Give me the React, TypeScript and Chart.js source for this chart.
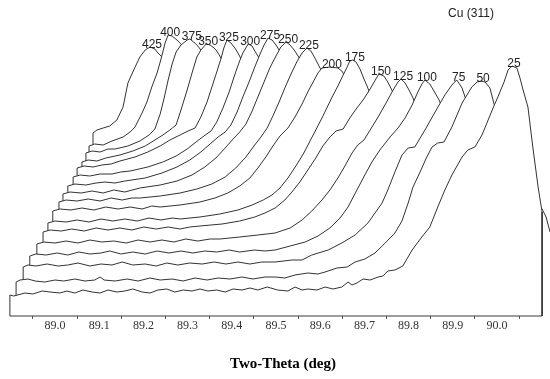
import React, { useEffect, useRef } from 'react';
import { Chart, registerables } from 'chart.js';

Chart.register(...registerables);

// Sample labels of the stacked Cu (311) scans, front (25) to back (425)
const SAMPLES = ['25', '50', '75', '100', '125', '150', '175', '200', '225', '250', '275', '300', '325', '350', '375', '400', '425'];

// Each trace: [two-theta as plotted (deg), stacked intensity (a.u.)]
const s25: number[][] = [
  [88.898, 0], [88.898, 21], [88.907, 20], [88.932, 23], [88.950, 22], [88.971, 25], [88.989, 24], [89.011, 23], [89.027, 25], [89.045, 23], [89.063, 26], [89.084, 24], [89.102, 23], [89.120, 26], [89.140, 24], [89.158, 25], [89.176, 27], [89.197, 24], [89.215, 23], [89.233, 26], [89.253, 27], [89.271, 24], [89.290, 26], [89.310, 25], [89.328, 27], [89.346, 25], [89.366, 26], [89.385, 24], [89.403, 27], [89.423, 26], [89.441, 28], [89.459, 26], [89.480, 29], [89.504, 26], [89.527, 25], [89.543, 29], [89.559, 26], [89.572, 27], [89.593, 26], [89.611, 29], [89.629, 27], [89.649, 29], [89.663, 34], [89.672, 31], [89.683, 33], [89.697, 37], [89.713, 36], [89.731, 39], [89.742, 40], [89.753, 45], [89.769, 46], [89.787, 50], [89.808, 66], [89.830, 79], [89.848, 89], [89.866, 109], [89.882, 126], [89.898, 141], [89.921, 159], [89.934, 166], [89.950, 169], [89.966, 181], [89.980, 196], [89.991, 208], [90.002, 219], [90.016, 234], [90.025, 246], [90.034, 250], [90.045, 248], [90.052, 238], [90.059, 226], [90.070, 209], [90.081, 169], [90.093, 129], [90.102, 104], [90.102, 0],
];
const s50: number[][] = [
  [88.912, 0], [88.912, 34], [88.921, 36], [88.939, 37], [88.955, 35], [88.977, 34], [89.000, 36], [89.020, 35], [89.045, 37], [89.068, 35], [89.090, 36], [89.102, 39], [89.111, 36], [89.136, 35], [89.163, 37], [89.188, 35], [89.215, 38], [89.238, 36], [89.265, 37], [89.290, 35], [89.317, 38], [89.344, 36], [89.369, 38], [89.396, 37], [89.423, 39], [89.448, 37], [89.475, 39], [89.498, 39], [89.520, 38], [89.543, 41], [89.572, 43], [89.595, 42], [89.611, 44], [89.638, 48], [89.661, 49], [89.679, 54], [89.701, 57], [89.724, 63], [89.747, 73], [89.769, 83], [89.785, 95], [89.799, 113], [89.810, 129], [89.826, 144], [89.839, 157], [89.853, 169], [89.866, 173], [89.880, 174], [89.898, 189], [89.921, 213], [89.943, 229], [89.955, 234], [89.964, 235], [89.973, 234], [89.984, 228], [89.991, 216], [90.000, 201], [90.018, 176], [90.041, 151], [90.063, 131], [90.086, 116], [90.102, 107], [90.111, 99], [90.120, 84], [90.121, 0],
];
const s75: number[][] = [
  [88.928, 0], [88.928, 49], [88.939, 51], [88.957, 50], [88.982, 52], [89.007, 50], [89.029, 51], [89.052, 53], [89.079, 50], [89.104, 52], [89.129, 51], [89.152, 54], [89.176, 51], [89.204, 52], [89.229, 50], [89.253, 53], [89.278, 51], [89.305, 53], [89.333, 52], [89.360, 54], [89.387, 52], [89.414, 54], [89.441, 52], [89.468, 54], [89.498, 54], [89.536, 56], [89.559, 56], [89.581, 61], [89.618, 66], [89.649, 73], [89.679, 81], [89.708, 93], [89.740, 113], [89.753, 126], [89.769, 144], [89.785, 161], [89.799, 168], [89.814, 169], [89.837, 186], [89.860, 204], [89.882, 221], [89.898, 231], [89.909, 236], [89.921, 228], [89.930, 216], [89.939, 206], [89.948, 191], [89.948, 0],
];
const s100: number[][] = [
  [88.943, 0], [88.943, 60], [88.957, 62], [88.980, 61], [89.005, 63], [89.029, 61], [89.054, 64], [89.079, 62], [89.104, 63], [89.124, 65], [89.149, 62], [89.176, 64], [89.204, 62], [89.231, 65], [89.258, 63], [89.285, 65], [89.312, 63], [89.339, 65], [89.366, 64], [89.394, 66], [89.418, 64], [89.452, 66], [89.475, 65], [89.498, 66], [89.532, 70], [89.566, 74], [89.595, 80], [89.622, 88], [89.645, 98], [89.663, 109], [89.683, 126], [89.701, 141], [89.717, 154], [89.735, 166], [89.758, 179], [89.776, 188], [89.792, 198], [89.808, 211], [89.821, 224], [89.830, 232], [89.837, 236], [89.848, 232], [89.860, 223], [89.869, 216], [89.878, 206], [89.878, 0],
];
const s125: number[][] = [
  [88.959, 0], [88.959, 72], [88.975, 74], [89.000, 73], [89.025, 75], [89.052, 73], [89.079, 76], [89.106, 74], [89.133, 75], [89.161, 73], [89.188, 76], [89.215, 74], [89.242, 76], [89.269, 74], [89.296, 77], [89.323, 75], [89.351, 77], [89.373, 77], [89.418, 79], [89.459, 81], [89.498, 83], [89.532, 88], [89.559, 96], [89.581, 105], [89.604, 116], [89.622, 126], [89.640, 138], [89.656, 150], [89.672, 163], [89.685, 171], [89.699, 176], [89.713, 186], [89.731, 199], [89.749, 213], [89.765, 226], [89.776, 234], [89.783, 237], [89.792, 233], [89.801, 226], [89.810, 218], [89.817, 210], [89.817, 0],
];
const s150: number[][] = [
  [88.973, 0], [88.973, 84], [88.989, 86], [89.014, 85], [89.038, 87], [89.066, 85], [89.093, 88], [89.120, 86], [89.147, 88], [89.174, 86], [89.201, 89], [89.229, 87], [89.256, 89], [89.283, 87], [89.305, 89], [89.328, 90], [89.378, 92], [89.418, 95], [89.452, 99], [89.475, 103], [89.498, 108], [89.520, 116], [89.536, 124], [89.554, 134], [89.572, 146], [89.590, 158], [89.606, 170], [89.622, 179], [89.636, 185], [89.652, 187], [89.667, 198], [89.683, 208], [89.697, 216], [89.713, 227], [89.726, 237], [89.733, 242], [89.744, 240], [89.753, 234], [89.762, 226], [89.769, 219], [89.769, 0],
];
const s175: number[][] = [
  [88.984, 0], [88.984, 93], [89.000, 95], [89.025, 94], [89.050, 96], [89.077, 94], [89.104, 97], [89.131, 95], [89.158, 97], [89.186, 95], [89.213, 98], [89.240, 96], [89.265, 98], [89.283, 97], [89.328, 99], [89.373, 102], [89.414, 106], [89.446, 111], [89.471, 116], [89.491, 121], [89.509, 128], [89.527, 138], [89.545, 150], [89.563, 163], [89.577, 175], [89.590, 186], [89.604, 198], [89.615, 208], [89.627, 219], [89.640, 230], [89.652, 241], [89.661, 249], [89.667, 255], [89.674, 256], [89.681, 254], [89.690, 247], [89.699, 237], [89.706, 230], [89.713, 222], [89.713, 0],
];
const s200: number[][] = [
  [88.995, 0], [88.995, 105], [89.011, 107], [89.036, 106], [89.061, 108], [89.088, 106], [89.115, 109], [89.143, 107], [89.170, 109], [89.197, 107], [89.219, 110], [89.238, 109], [89.283, 111], [89.328, 114], [89.362, 118], [89.391, 123], [89.418, 130], [89.441, 138], [89.459, 148], [89.477, 159], [89.493, 170], [89.509, 180], [89.527, 188], [89.543, 199], [89.559, 212], [89.572, 224], [89.584, 234], [89.595, 243], [89.604, 248], [89.622, 249], [89.640, 248], [89.649, 245], [89.656, 240], [89.663, 234], [89.663, 0],
];
const s225: number[][] = [
  [89.009, 0], [89.009, 114], [89.025, 116], [89.050, 115], [89.075, 117], [89.102, 115], [89.127, 118], [89.152, 116], [89.174, 118], [89.192, 118], [89.238, 120], [89.283, 123], [89.321, 127], [89.355, 132], [89.385, 139], [89.409, 148], [89.432, 159], [89.450, 170], [89.466, 179], [89.480, 188], [89.493, 200], [89.507, 214], [89.520, 228], [89.534, 242], [89.547, 254], [89.559, 263], [89.570, 268], [89.579, 265], [89.588, 258], [89.595, 252], [89.602, 246], [89.609, 238], [89.609, 0],
];
const s250: number[][] = [
  [89.018, 0], [89.018, 122], [89.034, 124], [89.059, 123], [89.084, 125], [89.109, 123], [89.133, 126], [89.158, 124], [89.192, 128], [89.238, 131], [89.276, 135], [89.310, 141], [89.339, 149], [89.364, 158], [89.385, 168], [89.403, 177], [89.418, 184], [89.432, 192], [89.446, 205], [89.459, 219], [89.473, 234], [89.486, 248], [89.500, 260], [89.511, 269], [89.523, 274], [89.532, 271], [89.541, 266], [89.550, 260], [89.557, 254], [89.563, 247], [89.563, 0],
];
const s275: number[][] = [
  [89.029, 0], [89.029, 130], [89.045, 132], [89.070, 131], [89.093, 133], [89.113, 134], [89.136, 133], [89.158, 135], [89.204, 138], [89.242, 143], [89.276, 149], [89.305, 156], [89.330, 164], [89.351, 172], [89.369, 179], [89.385, 184], [89.398, 191], [89.412, 204], [89.425, 219], [89.439, 234], [89.452, 249], [89.464, 262], [89.473, 271], [89.482, 278], [89.491, 276], [89.500, 271], [89.507, 266], [89.514, 260], [89.520, 253], [89.520, 0],
];
const s300: number[][] = [
  [89.041, 0], [89.041, 139], [89.057, 141], [89.079, 140], [89.102, 142], [89.129, 142], [89.149, 144], [89.170, 145], [89.210, 149], [89.244, 154], [89.274, 160], [89.299, 167], [89.319, 174], [89.337, 180], [89.353, 185], [89.366, 194], [89.380, 208], [89.394, 224], [89.405, 239], [89.416, 253], [89.425, 263], [89.437, 272], [89.446, 270], [89.452, 265], [89.459, 260], [89.466, 254], [89.466, 0],
];
const s325: number[][] = [
  [89.050, 0], [89.050, 148], [89.066, 150], [89.086, 149], [89.106, 151], [89.127, 152], [89.147, 155], [89.181, 159], [89.210, 164], [89.238, 170], [89.260, 176], [89.283, 181], [89.301, 185], [89.317, 188], [89.330, 199], [89.344, 214], [89.355, 229], [89.366, 244], [89.376, 258], [89.382, 268], [89.389, 276], [89.398, 273], [89.407, 268], [89.414, 263], [89.421, 257], [89.421, 0],
];
const s350: number[][] = [
  [89.061, 0], [89.061, 154], [89.075, 156], [89.095, 155], [89.115, 158], [89.147, 161], [89.176, 165], [89.204, 170], [89.226, 176], [89.244, 181], [89.260, 186], [89.274, 191], [89.285, 206], [89.299, 226], [89.312, 246], [89.321, 259], [89.330, 266], [89.342, 272], [89.351, 271], [89.360, 268], [89.366, 265], [89.373, 260], [89.380, 254], [89.380, 0],
];
const s375: number[][] = [
  [89.070, 0], [89.070, 163], [89.084, 165], [89.102, 164], [89.120, 167], [89.136, 167], [89.165, 170], [89.192, 175], [89.213, 181], [89.226, 187], [89.238, 202], [89.247, 218], [89.256, 236], [89.265, 252], [89.274, 264], [89.285, 271], [89.299, 276], [89.305, 277], [89.314, 274], [89.323, 270], [89.330, 266], [89.337, 261], [89.337, 0],
];
const s400: number[][] = [
  [89.077, 0], [89.077, 170], [89.090, 172], [89.109, 171], [89.129, 175], [89.154, 179], [89.170, 184], [89.181, 189], [89.197, 203], [89.208, 214], [89.219, 229], [89.231, 243], [89.238, 254], [89.244, 264], [89.249, 273], [89.256, 281], [89.265, 280], [89.276, 276], [89.287, 271], [89.296, 266], [89.296, 0],
];
const s425: number[][] = [
  [89.086, 0], [89.086, 183], [89.095, 186], [89.109, 188], [89.124, 190], [89.140, 196], [89.154, 209], [89.165, 233], [89.176, 244], [89.192, 259], [89.204, 266], [89.215, 269], [89.226, 267], [89.233, 263], [89.242, 259], [89.249, 253], [89.249, 0],
];

const SERIES = [s25, s50, s75, s100, s125, s150, s175, s200, s225, s250, s275, s300, s325, s350, s375, s400, s425];

// Axis ticks: marks at the half steps, labels at the tenths
const TICKS = [88.95, 89.0, 89.05, 89.1, 89.15, 89.2, 89.25, 89.3, 89.35, 89.4, 89.45, 89.5, 89.55, 89.6, 89.65, 89.7, 89.75, 89.8, 89.85, 89.9, 89.95, 90.0, 90.05];
const X_MIN = 88.8756;
const X_MAX = 90.1199;
const Y_MAX = 316;
const AXIS_TITLE = 'Two-Theta (deg)';
const PEAK_TITLE = 'Cu (311)';

const SERIF = '"Liberation Serif", "Times New Roman", serif';
const SANS = '"Liberation Sans", Arial, sans-serif';

const isHalf = (v: number) => Math.abs(Math.round(v * 20)) % 2 === 1;

const overlay = {
  id: 'overlay',
  afterDatasetsDraw(chart: any) {
    const ctx = chart.ctx;
    const xs = chart.scales.x;
    const ys = chart.scales.y;
    const area = chart.chartArea;
    const front = SERIES[0];
    const y0 = ys.getPixelForValue(0);
    ctx.save();
    // base line under the front trace
    ctx.strokeStyle = '#3a3a3a';
    ctx.lineWidth = 1;
    ctx.beginPath();
    ctx.moveTo(xs.getPixelForValue(front[0][0]), y0);
    ctx.lineTo(xs.getPixelForValue(front[front.length - 1][0]), y0);
    ctx.stroke();
    // sample labels at each trace's maximum
    ctx.font = '12px ' + SANS;
    ctx.fillStyle = '#222';
    ctx.textAlign = 'center';
    ctx.textBaseline = 'alphabetic';
    SERIES.forEach((s, i) => {
      let best = 0;
      s.forEach((p, j) => {
        if (p[1] > s[best][1]) best = j;
      });
      const px = xs.getPixelForValue(s[best][0]);
      const py = ys.getPixelForValue(s[best][1]);
      ctx.fillText(SAMPLES[i], px + 2, py + 1);
    });
    ctx.fillText(PEAK_TITLE, area.right - 79, area.top + 17);
    // axis title
    ctx.font = 'bold 15px ' + SERIF;
    ctx.fillStyle = '#000';
    ctx.textBaseline = 'middle';
    ctx.fillText(AXIS_TITLE, (area.left + area.right) / 2 + 8, area.bottom + 48);
    ctx.restore();
  },
};

export default function App() {
  const ref = useRef<HTMLCanvasElement | null>(null);
  useEffect(() => {
    if (!ref.current) return;
    const chart = new Chart(ref.current, {
      type: 'line',
      data: {
        datasets: SERIES.map((s, i) => ({
          label: SAMPLES[i],
          data: s.map(([x, y]) => ({ x, y })),
          borderColor: '#333',
          borderWidth: 1,
          backgroundColor: '#ffffff',
          fill: 'origin',
          pointRadius: 0,
          tension: 0,
        })),
      },
      options: {
        responsive: false,
        animation: false,
        layout: { padding: 0 },
        plugins: { legend: { display: false }, tooltip: { enabled: false } },
        scales: {
          x: {
            type: 'linear',
            min: X_MIN,
            max: X_MAX,
            afterBuildTicks: (scale: any) => {
              scale.ticks = TICKS.map((v) => ({ value: v }));
            },
            afterFit: (scale: any) => {
              scale.height = 63;
            },
            ticks: {
              autoSkip: false,
              maxRotation: 0,
              padding: 0,
              color: '#333',
              font: { family: SERIF, size: 12 },
              callback: (v: any) => (isHalf(Number(v)) ? '' : Number(v).toFixed(1)),
            },
            grid: {
              drawOnChartArea: false,
              drawTicks: true,
              tickLength: 3,
              tickColor: (c: any) => (c.tick && isHalf(c.tick.value) ? '#555' : 'rgba(0,0,0,0)'),
            },
            border: { display: false },
          },
          y: { display: false, min: 0, max: Y_MAX },
        },
      },
      plugins: [overlay],
    } as any);
    return () => chart.destroy();
  }, []);
  return (
    <div style={{ position: 'absolute', left: 0, top: 0, width: 550, height: 379, background: '#fff' }}>
      <canvas ref={ref} width={550} height={379} style={{ display: 'block' }} />
    </div>
  );
}
